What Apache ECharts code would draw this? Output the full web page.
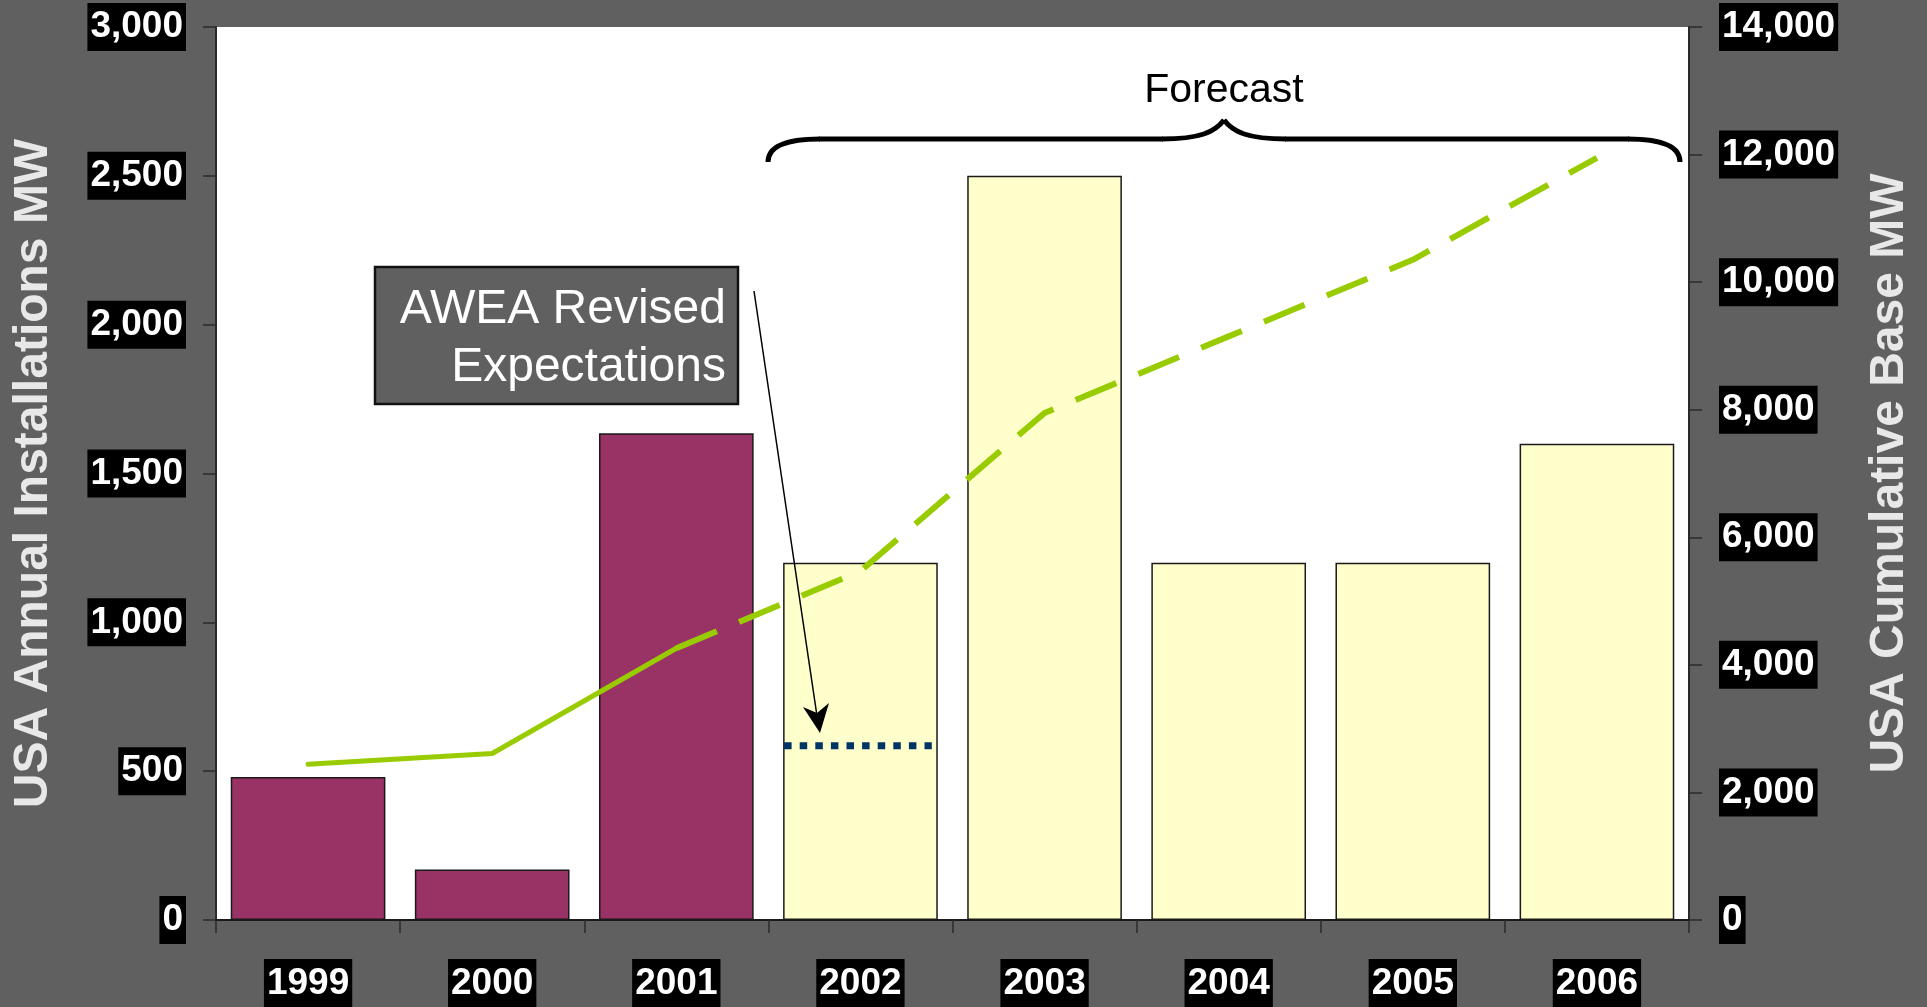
<!DOCTYPE html>
<html>
<head>
<meta charset="utf-8">
<script src="https://cdn.jsdelivr.net/npm/echarts@6/dist/echarts.min.js"></script>
<style>
html,body{margin:0;padding:0;background:#606060;}
#chart{width:1927px;height:1007px;}
</style>
</head>
<body>
<div id="chart"></div>
<script>
// ---- data ----
const years = ['1999', '2000', '2001', '2002', '2003', '2004', '2005', '2006'];
const annualMW = [480, 170, 1635, 1200, 2500, 1200, 1200, 1600];
const cumulativeMW = [2440, 2610, 4260, 5470, 7950, 9150, 10350, 11950];
const firstForecastIndex = 3;
const revisedYear = '2002';
const revisedValue = 585;
const leftTicks = { min: 0, max: 3000, interval: 500 };
const rightTicks = { min: 0, max: 14000, interval: 2000 };
const leftTitle = 'USA Annual Installations MW';
const rightTitle = 'USA Cumulative Base MW';
const forecastLabel = 'Forecast';
const noteText = 'AWEA Revised\nExpectations';

// ---- styles ----
const FONT = 'Liberation Sans, Arial, sans-serif';
const MAROON = '#993366';
const PALE = '#FFFFCC';
const GREEN = '#99CC00';
const NAVY = '#003366';
const BAR_RATIO = 0.84;

const fmt = v => Number(v).toLocaleString('en-US');

const barData = annualMW.map((v, i) => ({
  value: v,
  itemStyle: { color: i >= firstForecastIndex ? PALE : MAROON }
}));
const solidLine = cumulativeMW.map((v, i) => i <= firstForecastIndex - 1 ? v : '-');
const dashedLine = cumulativeMW.map((v, i) => i >= firstForecastIndex - 1 ? v : '-');

function labelStyle(margin, align, withFmt) {
  const o = {
    color: '#ffffff',
    fontFamily: FONT,
    fontWeight: 'bold',
    fontSize: 37,
    lineHeight: 38,
    backgroundColor: '#000000',
    padding: [6, 3, 4, 3],
    margin: margin
  };
  if (align) o.align = align;
  if (withFmt) o.formatter = fmt;
  return o;
}
const axisLineStyle = { show: true, lineStyle: { color: '#2a2a2a', width: 2 } };
const axisTickStyle = { show: true, inside: false, length: 13, lineStyle: { color: '#2a2a2a', width: 1.5 } };
const nameStyle = { color: '#E8E8E8', fontFamily: FONT, fontWeight: 'bold', fontSize: 48, lineHeight: 48 };

const chart = echarts.init(document.getElementById('chart'), null, { renderer: 'canvas' });

const braceStyle = { stroke: '#000000', lineWidth: 5, fill: null };
chart.setOption({
  animation: false,
  backgroundColor: '#606060',
  grid: { left: 216, right: 238, top: 27, bottom: 85, show: true, backgroundColor: '#ffffff', borderWidth: 0 },
  xAxis: {
    type: 'category',
    data: years,
    boundaryGap: true,
    axisLine: { show: true, lineStyle: { color: '#1a1a1a', width: 2 } },
    axisTick: { show: true, length: 13, lineStyle: { color: '#2a2a2a', width: 1.5 } },
    axisLabel: labelStyle(39, null, false),
    splitLine: { show: false }
  },
  yAxis: [
    {
      type: 'value',
      min: leftTicks.min, max: leftTicks.max, interval: leftTicks.interval,
      name: leftTitle, nameLocation: 'middle', nameRotate: 90, nameGap: 158,
      nameTextStyle: nameStyle,
      axisLine: axisLineStyle, axisTick: axisTickStyle,
      axisLabel: labelStyle(30, null, true),
      splitLine: { show: false }
    },
    {
      type: 'value',
      position: 'right',
      min: rightTicks.min, max: rightTicks.max, interval: rightTicks.interval,
      name: rightTitle, nameLocation: 'middle', nameRotate: 90, nameGap: 177,
      nameTextStyle: nameStyle,
      axisLine: axisLineStyle, axisTick: axisTickStyle,
      axisLabel: labelStyle(30, 'left', true),
      splitLine: { show: false }
    }
  ],
  series: [
    {
      type: 'bar',
      data: barData,
      barWidth: (BAR_RATIO * 100) + '%',
      itemStyle: { borderColor: '#1a1a1a', borderWidth: 1.5 },
      z: 2
    },
    {
      type: 'line',
      yAxisIndex: 1,
      data: solidLine,
      symbol: 'none',
      lineStyle: { color: GREEN, width: 5, cap: 'round' },
      z: 3
    },
    {
      type: 'line',
      yAxisIndex: 1,
      data: dashedLine,
      symbol: 'none',
      lineStyle: { color: GREEN, width: 6, type: [44, 24], cap: 'butt' },
      z: 3
    },
    {
      type: 'custom',
      yAxisIndex: 0,
      data: [[revisedYear, revisedValue]],
      renderItem: function (params, api) {
        const p = api.coord([api.value(0), api.value(1)]);
        const w = api.size([1, 0])[0] * BAR_RATIO;
        const x0 = p[0] - w / 2 + 1;
        return {
          type: 'line',
          shape: { x1: x0, y1: p[1], x2: x0 + w * 0.955, y2: p[1] },
          style: { stroke: NAVY, lineWidth: 7, lineDash: [7.5, 8.1] }
        };
      },
      z: 4
    }
  ],
  graphic: [
    { type: 'bezierCurve', shape: { x1: 768, y1: 162, cpx1: 768, cpy1: 146, cpx2: 786, cpy2: 139, x2: 820, y2: 139 }, style: braceStyle, z: 10 },
    { type: 'line', shape: { x1: 819, y1: 139, x2: 1163, y2: 139 }, style: braceStyle, z: 10 },
    { type: 'bezierCurve', shape: { x1: 1162, y1: 139, cpx1: 1200, cpy1: 139, cpx2: 1215, cpy2: 132, x2: 1224, y2: 120 }, style: braceStyle, z: 10 },
    { type: 'bezierCurve', shape: { x1: 1224, y1: 120, cpx1: 1233, cpy1: 132, cpx2: 1248, cpy2: 139, x2: 1286, y2: 139 }, style: braceStyle, z: 10 },
    { type: 'line', shape: { x1: 1285, y1: 139, x2: 1629, y2: 139 }, style: braceStyle, z: 10 },
    { type: 'bezierCurve', shape: { x1: 1628, y1: 139, cpx1: 1662, cpy1: 139, cpx2: 1680, cpy2: 146, x2: 1680, y2: 162 }, style: braceStyle, z: 10 },
    {
      type: 'text',
      x: 1224, y: 91,
      style: { text: forecastLabel, fill: '#000000', font: '41px ' + FONT, align: 'center', verticalAlign: 'middle' },
      z: 10
    },
    {
      type: 'rect',
      shape: { x: 375, y: 267, width: 363, height: 137 },
      style: { fill: '#606060', stroke: '#111111', lineWidth: 2.5 },
      z: 10
    },
    {
      type: 'text',
      x: 726, y: 339,
      style: { text: noteText, fill: '#ffffff', font: '48px ' + FONT, align: 'right', verticalAlign: 'middle', lineHeight: 58 },
      z: 11
    },
    {
      type: 'line',
      shape: { x1: 754, y1: 291, x2: 817, y2: 716 },
      style: { stroke: '#000000', lineWidth: 1.5 },
      z: 10
    },
    {
      type: 'polygon',
      shape: { points: [[820, 733], [803, 707], [817, 713], [829, 703]] },
      style: { fill: '#000000' },
      z: 10
    }
  ]
});
</script>
</body>
</html>
